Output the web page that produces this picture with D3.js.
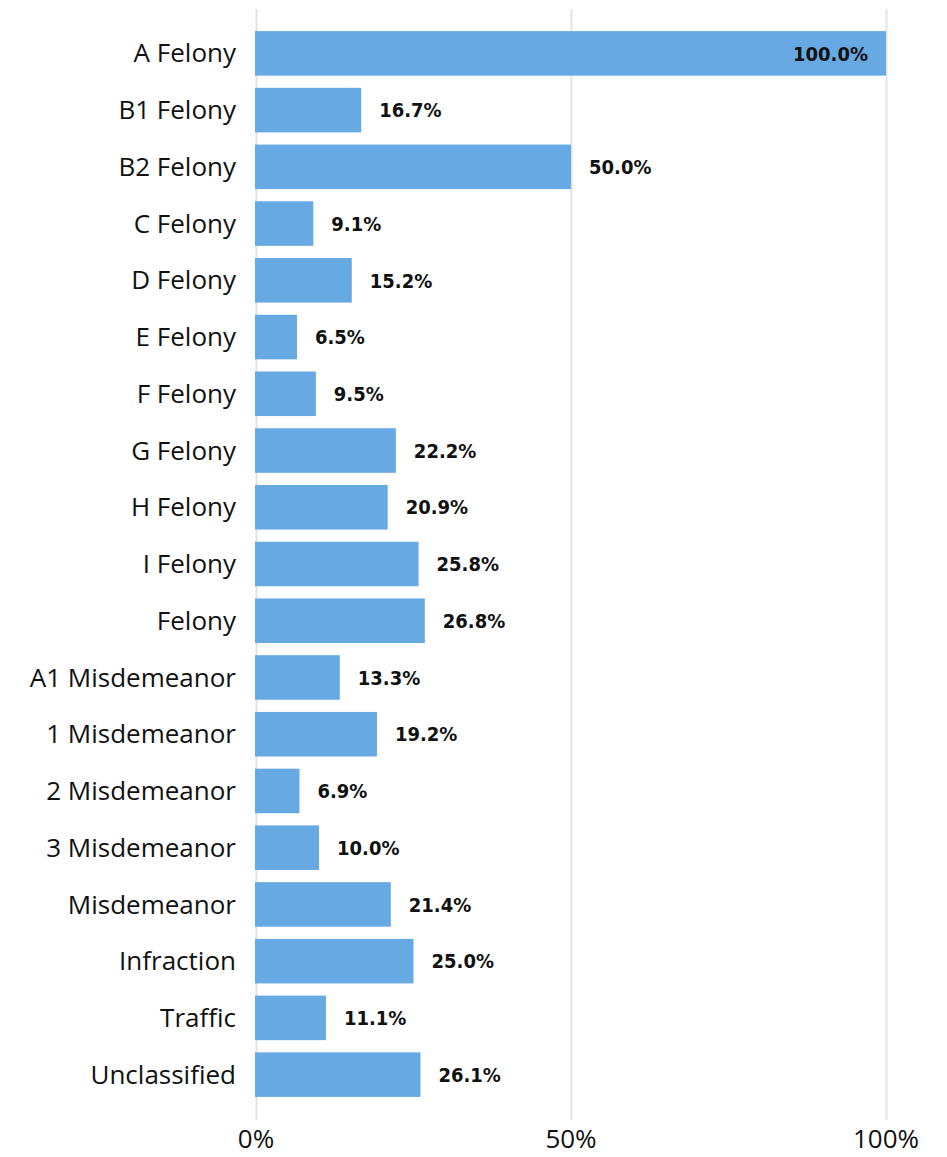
<!DOCTYPE html>
<html lang="en">
<head>
    <meta charset="UTF-8">
    <title>Rate by Offense Class</title>
    <script src="https://d3js.org/d3.v7.min.js"></script>
    <style>
        body { margin: 0; background: #fff; }
        svg { display: block; }
        .cat { font-family: "Open Sans", "Noto Sans", sans-serif; font-size: 26px; fill: #111; }
        .tick-label { font-family: "Open Sans", "Noto Sans", sans-serif; font-size: 26px; fill: #111; }
        .val { font-family: "DejaVu Sans Condensed", "Roboto", sans-serif; font-weight: bold; font-size: 20px; fill: #111; }
    </style>
</head>
<body>
    <svg></svg>
    <script>
        const width = 947;
        const height = 1157;

        const categories = [
            "A Felony", "B1 Felony", "B2 Felony", "C Felony", "D Felony",
            "E Felony", "F Felony", "G Felony", "H Felony", "I Felony",
            "Felony", "A1 Misdemeanor", "1 Misdemeanor", "2 Misdemeanor",
            "3 Misdemeanor", "Misdemeanor", "Infraction", "Traffic", "Unclassified"
        ];
        const values = [
            100.0, 16.7, 50.0, 9.1, 15.2,
            6.5, 9.5, 22.2, 20.9, 25.8,
            26.8, 13.3, 19.2, 6.9,
            10.0, 21.4, 25.0, 11.1, 26.1
        ];
        const tickValues = [0, 50, 100];

        const svg = d3.select("svg")
            .attr("width", width)
            .attr("height", height);

        const x = d3.scaleLinear()
            .domain([0, 100])
            .range([256, 886]);

        const y = d3.scaleBand()
            .domain(categories)
            .range([25, 1103])
            .paddingInner(0.215)
            .paddingOuter(0.1075);

        // gridlines
        svg.append("g")
            .selectAll("line")
            .data(tickValues)
            .enter().append("line")
            .attr("x1", d => x(d) + 0.5)
            .attr("x2", d => x(d) + 0.5)
            .attr("y1", 9)
            .attr("y2", 1120)
            .attr("stroke", "#e3e3e3")
            .attr("stroke-width", 2);

        // bars
        svg.append("g")
            .selectAll("rect")
            .data(categories)
            .enter().append("rect")
            .attr("x", x(0) - 1)
            .attr("y", d => y(d))
            .attr("width", (d, i) => x(values[i]) - x(0) + 1)
            .attr("height", y.bandwidth())
            .attr("fill", "#67a9e3");

        // category labels
        svg.append("g")
            .selectAll("text")
            .data(categories)
            .enter().append("text")
            .attr("class", "cat")
            .attr("x", 236)
            .attr("y", d => y(d) + y.bandwidth() / 2)
            .attr("dy", "0.35em")
            .attr("text-anchor", "end")
            .text(d => d);

        // value labels (the full bar gets its label inside)
        svg.append("g")
            .selectAll("text")
            .data(categories)
            .enter().append("text")
            .attr("class", "val")
            .attr("x", (d, i) => values[i] > 90 ? x(values[i]) - 18 : x(values[i]) + 18)
            .attr("y", d => y(d) + y.bandwidth() / 2)
            .attr("dy", "0.36em")
            .attr("text-anchor", (d, i) => values[i] > 90 ? "end" : "start")
            .text((d, i) => values[i].toFixed(1) + "%");

        // x tick labels
        svg.append("g")
            .selectAll("text")
            .data(tickValues)
            .enter().append("text")
            .attr("class", "tick-label")
            .attr("x", d => x(d))
            .attr("y", 1148)
            .attr("text-anchor", "middle")
            .text(d => d + "%");
    </script>
</body>
</html>
